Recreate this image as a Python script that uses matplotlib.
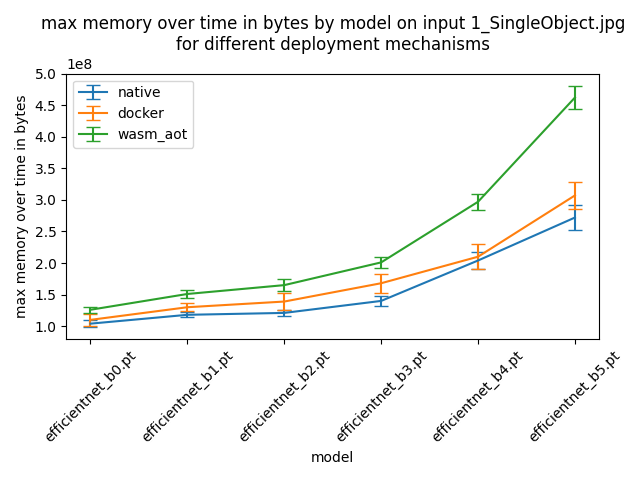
import matplotlib
matplotlib.use('Agg')
import matplotlib.pyplot as plt

models = ['efficientnet_b0.pt', 'efficientnet_b1.pt', 'efficientnet_b2.pt',
          'efficientnet_b3.pt', 'efficientnet_b4.pt', 'efficientnet_b5.pt']

native_mean = [1.04e8, 1.18e8, 1.21e8, 1.40e8, 2.04e8, 2.72e8]
native_err = [0.05e8, 0.04e8, 0.05e8, 0.08e8, 0.14e8, 0.20e8]

docker_mean = [1.10e8, 1.30e8, 1.39e8, 1.68e8, 2.10e8, 3.07e8]
docker_err = [0.10e8, 0.06e8, 0.14e8, 0.15e8, 0.20e8, 0.22e8]

wasm_mean = [1.26e8, 1.51e8, 1.65e8, 2.01e8, 2.97e8, 4.62e8]
wasm_err = [0.05e8, 0.07e8, 0.10e8, 0.085e8, 0.13e8, 0.18e8]


def main():
    fig, ax = plt.subplots(figsize=(6.4, 4.8), dpi=100)
    ax.errorbar(models, native_mean, yerr=native_err, capsize=5, label='native')
    ax.errorbar(models, docker_mean, yerr=docker_err, capsize=5, label='docker')
    ax.errorbar(models, wasm_mean, yerr=wasm_err, capsize=5, label='wasm_aot')
    ax.set_title('max memory over time in bytes by model on input 1_SingleObject.jpg\n'
                 'for different deployment mechanisms')
    ax.set_xlabel('model')
    ax.set_ylabel('max memory over time in bytes')
    ax.set_yticks([1.0e8, 1.5e8, 2.0e8, 2.5e8, 3.0e8, 3.5e8, 4.0e8, 4.5e8, 5.0e8])
    plt.xticks(rotation=45)
    ax.legend(loc='upper left')
    plt.tight_layout()
    plt.savefig('out.png')


if __name__ == '__main__':
    main()
